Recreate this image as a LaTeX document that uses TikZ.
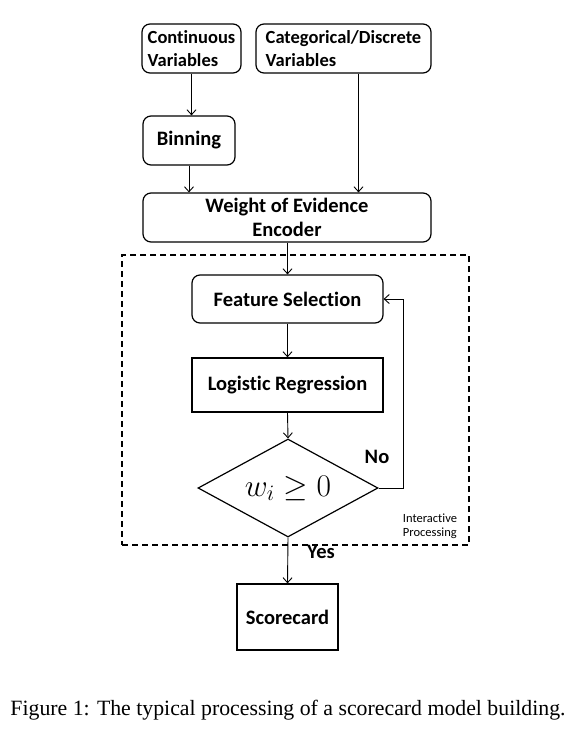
\RequirePackage{fix-cm}
\documentclass[tikz,border=0pt]{standalone}
\usepackage{fontspec}
\setmainfont{Carlito}[Ligatures=NoCommon]
\newfontfamily\capfont{Liberation Serif}
\usetikzlibrary{arrows.meta,shapes.geometric,calc}
\begin{document}
\begin{tikzpicture}[x=1pt,y=-1pt,
  lbl/.style={font=\bfseries\fontsize{20.5}{24}\selectfont},
  toplbl/.style={font=\bfseries\fontsize{18.5}{23}\selectfont},
  rbox/.style={draw,rounded corners=8pt,line width=1.2pt,inner sep=0pt,lbl},
  sbox/.style={draw,line width=1.3pt,inner sep=0pt,lbl},
  arr/.style={line width=0.9pt,-{Straight Barb[length=5pt,width=9pt]}},
  ln/.style={line width=0.9pt}]
\useasboundingbox (0,0) rectangle (582,737);
\node[draw,dashed,dash pattern=on 6pt off 4pt,line width=1.1pt,minimum width=347pt,minimum height=290pt,inner sep=0pt] (loop) at (295.5,400) {};
\node[rbox,toplbl,minimum width=99pt,minimum height=49pt,align=left] (cont) at (191.5,48.5) {Continuous\\Variables};
\node[rbox,toplbl,minimum width=175pt,minimum height=49pt,align=left] (cat) at (343.5,48.5) {Categorical/Discrete\\Variables};
\node[rbox,minimum width=92pt,minimum height=49pt] (bin) at (189,140.5) {Binning};
\node[rbox,minimum width=288pt,minimum height=49pt,align=center,font=\bfseries\fontsize{20.5}{24}\selectfont] (woe) at (287,217.5) {Weight of Evidence\\Encoder};
\node[rbox,minimum width=191pt,minimum height=48pt] (fs) at (287.5,299) {Feature Selection};
\node[sbox,minimum width=191pt,minimum height=54pt] (lr) at (287.5,385) {Logistic Regression};
\node[diamond,draw,line width=1.2pt,inner sep=0pt,minimum width=180pt,minimum height=98pt,font=\fontsize{31.5}{33}\selectfont] (dia) at (288,488) {\makebox[0pt]{\smash{\raisebox{-8pt}{$w_i \geq 0$}}}};
\node[sbox,minimum width=101pt,minimum height=66pt] (score) at (287.5,617) {Scorecard};
\coordinate (loopc) at ([xshift=20pt]fs.east);
\draw[arr] (cont.south) -- (cont.south |- bin.north);
\draw[arr] (bin.south) -- (bin.south |- woe.north);
\draw[arr] ([xshift=15pt]cat.south) -- ([xshift=15pt]cat.south |- woe.north);
\draw[arr] (woe.south -| fs.north) -- (fs.north);
\draw[arr] (fs.south) -- (lr.north);
\draw[arr] (lr.south) -- (dia.north);
\draw[arr] (dia.east) -| (loopc) -- (fs.east);
\draw[arr] (dia.south) -- (score.north);
\node[lbl] (no) at (377,457) {No};
\node[lbl] (yes) at (321,552) {Yes};
\node[align=left,font=\fontsize{12.5}{14}\selectfont,inner sep=0pt] (ip) at (430,526) {Interactive\\Processing};
\node[font=\capfont\fontsize{21.8}{24}\selectfont,inner sep=0pt] (cap) at (288,710) {Figure 1: The typical processing of a scorecard model building.};
\end{tikzpicture}
\end{document}
